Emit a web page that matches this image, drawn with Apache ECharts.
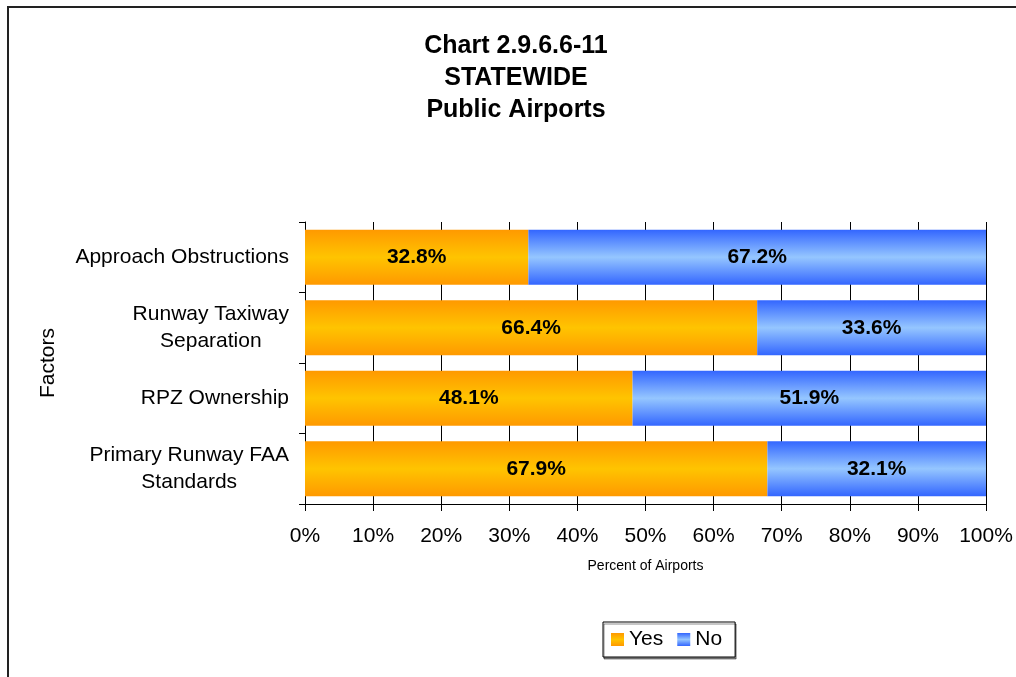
<!DOCTYPE html>
<html>
<head>
<meta charset="utf-8">
<script src="https://cdn.jsdelivr.net/npm/echarts@6/dist/echarts.min.js"></script>
<style>
  html, body { margin: 0; padding: 0; background: #fff; }
  #main { width: 1016px; height: 677px; }
</style>
</head>
<body>
<div id="main"></div>
<script>
// Data (bottom to top, as the category axis draws them)
var factors = ['Primary Runway FAA\nStandards', 'RPZ Ownership', 'Runway Taxiway\nSeparation', 'Approach Obstructions'];
var yesValues = [67.9, 48.1, 66.4, 32.8];
var noValues = [32.1, 51.9, 33.6, 67.2];

var myChart = echarts.init(document.getElementById('main'));

function band(edge, core) {
    return new echarts.graphic.LinearGradient(0, 0, 0, 1, [
        { offset: 0, color: edge },
        { offset: 0.5, color: core },
        { offset: 1, color: edge }
    ]);
}

var labelStyle = {
    show: true,
    position: 'inside',
    fontFamily: 'Liberation Sans, Arial',
    fontWeight: 'bold',
    fontSize: 21,
    color: '#000',
    formatter: function (p) { return p.value.toFixed(1) + '%'; }
};

var option = {
    animation: false,
    title: {
        text: 'Chart 2.9.6.6-11\nSTATEWIDE\nPublic Airports',
        left: 511,
        textAlign: 'center',
        top: 25,
        textStyle: {
            fontFamily: 'Liberation Sans, Arial',
            fontWeight: 'bold',
            fontSize: 25,
            lineHeight: 32,
            color: '#000'
        }
    },
    graphic: [{
        type: 'rect',
        shape: { x: 8, y: 7, width: 1100, height: 1000 },
        style: { fill: 'none', stroke: '#222', lineWidth: 2 },
        silent: true
    }],
    legend: {
        data: ['Yes', 'No'],
        icon: 'rect',
        bottom: 20,
        left: 603,
        itemWidth: 13,
        itemHeight: 13,
        itemGap: 14,
        padding: [7, 13, 7, 8],
        borderColor: '#000',
        borderWidth: 1,
        shadowColor: 'rgba(0,0,0,0.45)',
        shadowOffsetX: 1,
        shadowOffsetY: 2,
        backgroundColor: '#fff',
        textStyle: {
            fontFamily: 'Liberation Sans, Arial',
            fontSize: 21,
            color: '#000'
        }
    },
    grid: {
        left: 305,
        right: 30,
        top: 222,
        bottom: 173
    },
    xAxis: {
        type: 'value',
        min: 0,
        max: 100,
        interval: 10,
        name: 'Percent of Airports',
        nameLocation: 'middle',
        nameGap: 55,
        nameTextStyle: {
            fontFamily: 'Liberation Sans, Arial',
            fontSize: 14,
            color: '#000'
        },
        axisLine: { show: true, lineStyle: { color: '#000', width: 1 } },
        axisTick: { show: true, length: 7, lineStyle: { color: '#000' } },
        axisLabel: {
            margin: 22,
            fontFamily: 'Liberation Sans, Arial',
            fontSize: 21,
            color: '#000',
            formatter: '{value}%'
        },
        splitLine: { show: true, lineStyle: { color: '#000', width: 1 } }
    },
    yAxis: {
        type: 'category',
        data: factors,
        name: 'Factors',
        nameLocation: 'middle',
        nameGap: 246,
        nameRotate: 90,
        nameTextStyle: {
            fontFamily: 'Liberation Sans, Arial',
            fontSize: 21,
            color: '#000'
        },
        axisLine: { show: true, lineStyle: { color: '#000', width: 1 } },
        axisTick: { show: true, length: 6, lineStyle: { color: '#000' } },
        axisLabel: {
            margin: 16,
            color: '#000',
            formatter: function (v) {
                return v.split('\n').map(function (s) { return '{c|' + s + '}'; }).join('\n');
            },
            rich: {
                c: {
                    align: 'center',
                    fontFamily: 'Liberation Sans, Arial',
                    fontSize: 21,
                    lineHeight: 27,
                    color: '#000'
                }
            }
        }
    },
    series: [
        {
            name: 'Yes',
            type: 'bar',
            stack: 'total',
            barCategoryGap: '22%',
            data: yesValues,
            itemStyle: { color: band('#FF9900', '#FFC400') },
            label: labelStyle
        },
        {
            name: 'No',
            type: 'bar',
            stack: 'total',
            barCategoryGap: '22%',
            data: noValues,
            itemStyle: { color: band('#3366FF', '#95C6FF') },
            label: labelStyle
        }
    ]
};

myChart.setOption(option);
</script>
</body>
</html>
